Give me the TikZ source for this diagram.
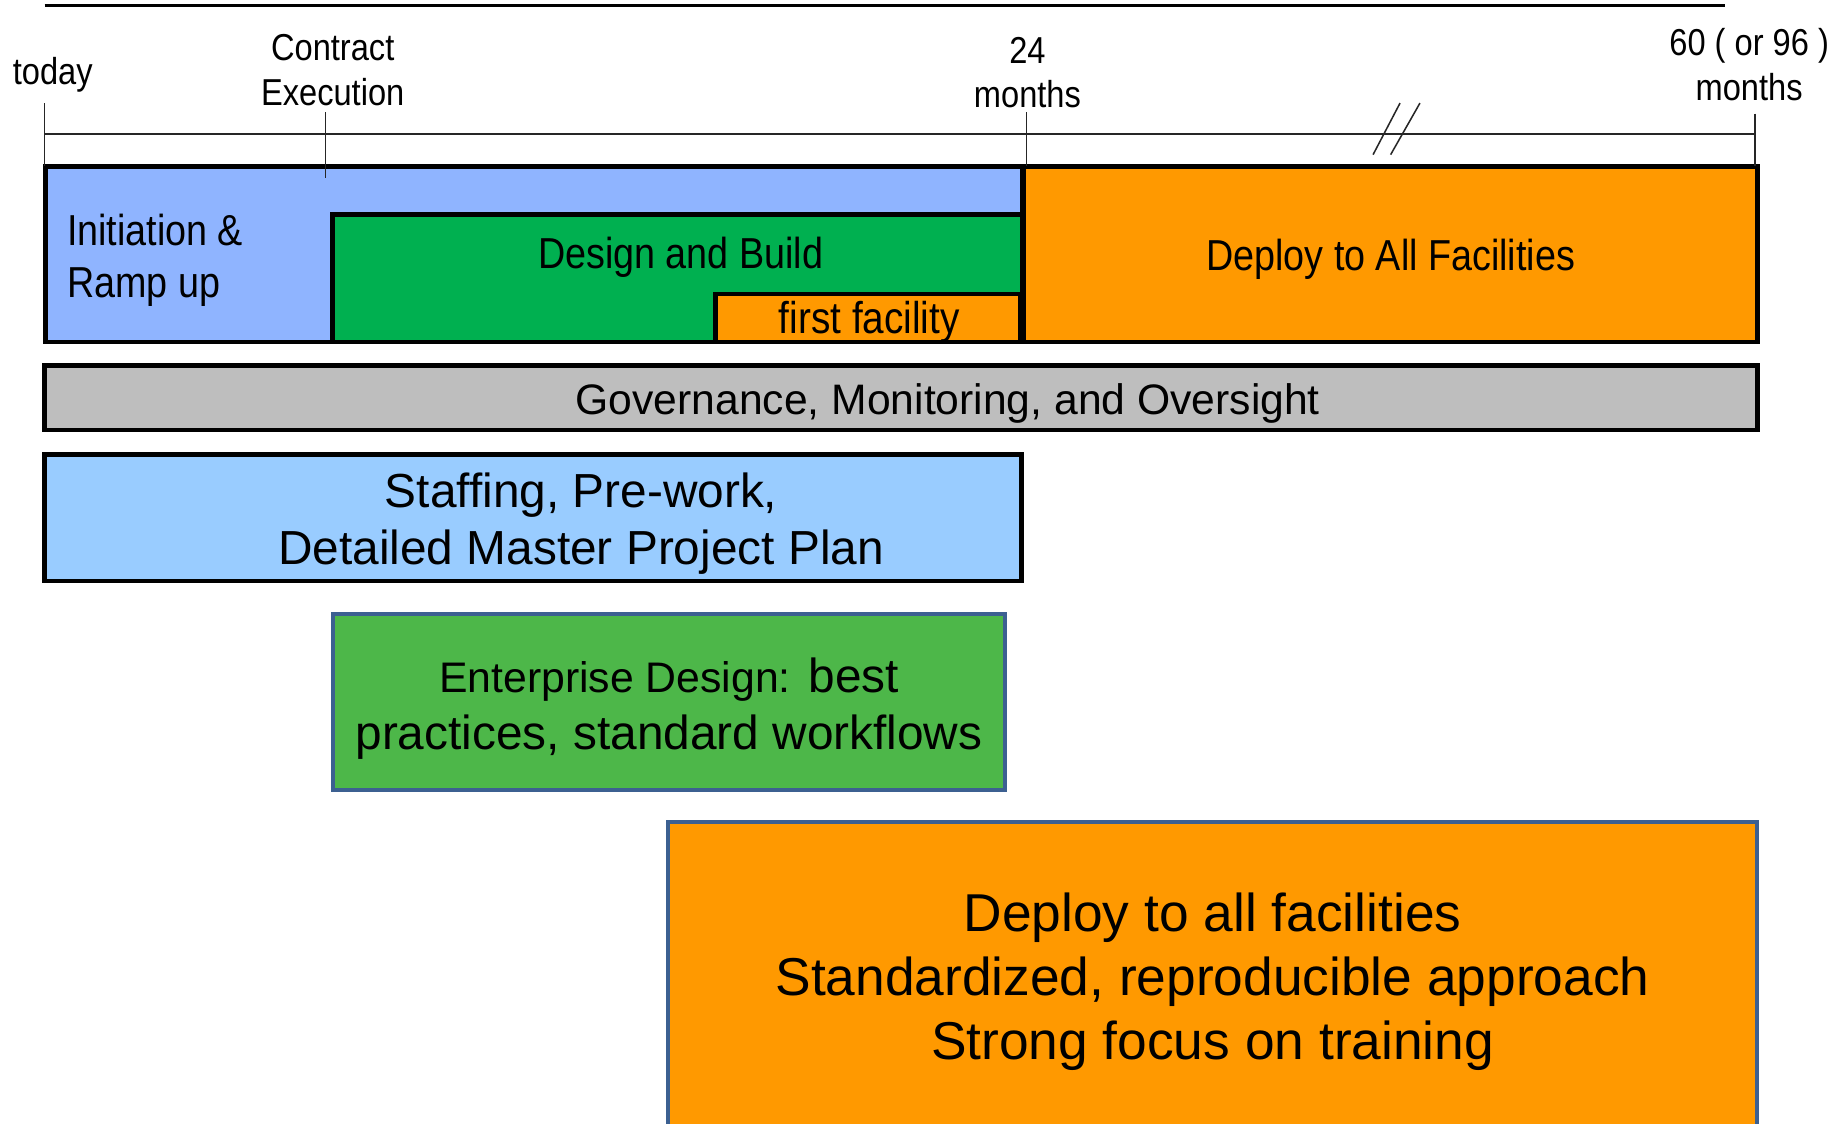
\documentclass[tikz,border=0pt]{standalone}
\usepackage{fontspec}
\setmainfont{Liberation Sans}
\newfontfamily\narrowfont[FakeStretch=0.87]{Liberation Sans}
\definecolor{initblue}{RGB}{143,180,255}
\definecolor{buildgreen}{RGB}{0,176,80}
\definecolor{deployorange}{RGB}{255,153,0}
\definecolor{govgray}{RGB}{190,190,190}
\definecolor{staffblue}{RGB}{153,204,255}
\definecolor{entgreen}{RGB}{77,183,73}
\definecolor{edgeblue}{RGB}{60,96,145}
\begin{document}
\begin{tikzpicture}[x=1pt,y=-1pt,
  bar/.style={draw=black, line width=4pt, inner sep=0pt, outer sep=0pt, anchor=north west},
  softbar/.style={draw=edgeblue, line width=3.5pt, inner sep=0pt, outer sep=0pt, anchor=north west},
  toplabel/.style={font={\narrowfont\fontsize{32}{38}\selectfont}, align=center, inner sep=0pt},
  barlabel/.style={font={\narrowfont\fontsize{37}{44}\selectfont}, inner sep=0pt},
  tickline/.style={line width=1.3pt, draw=black!85},
]
\clip (0,0) rectangle (1568,958.6);
\fill[white] (0,0) rectangle (1568,958.6);

% top rule and timeline
\draw[line width=2.5pt] (38,5) -- (1472,5);
\draw[tickline, line width=1.8pt] (38,114) -- (1498,114);

% top row bars
\node[bar, fill=initblue, minimum width=834pt, minimum height=150pt] (init) at (39,142) {};
\node[bar, fill=buildgreen, minimum width=589pt, minimum height=109pt] (build) at (284,183) {};
\node[bar, fill=deployorange, minimum width=260pt, minimum height=41pt] (first) at (611,251) {};
\node[bar, fill=deployorange, minimum width=626pt, minimum height=150pt] (deploy) at (874,142) {};

% ticks
\draw[tickline] (38,88) -- (38,142);
\draw[tickline] (278,96) -- (278,152);
\draw[tickline] (876,96) -- (876,142);
\draw[tickline] (1498,97) -- (1498,142);
% break marks
\draw[tickline] (1172,132) -- (1195,88);
\draw[tickline] (1187,132) -- (1212,88);

% timeline labels
\node[toplabel] (today) at (45,64) {today};
\node[toplabel] (contract) at (284,60) {Contract\\Execution};
\node[toplabel] (m24) at (877,62) {24\\months};
\node[toplabel] (m60) at (1493,55) {60 ( or 96 )\\months};

% bar labels
\node[barlabel, anchor=west, align=left] (inittxt) at (57,222) {Initiation \&\\Ramp up};
\node[barlabel] (buildtxt) at (581,220) {Design and Build};
\node[barlabel, font={\narrowfont\fontsize{38}{44}\selectfont}] (firsttxt) at (742,275) {first facility};
\node[barlabel] (deploytxt) at (1187,221) {Deploy to All Facilities};

% governance
\node[bar, fill=govgray, minimum width=1462pt, minimum height=55pt] (gov) at (38,312) {};
\node[font={\fontsize{36.4}{44}\selectfont}, inner sep=0pt] (govtxt) at (809,344) {Governance, Monitoring, and Oversight};

% staffing
\node[bar, fill=staffblue, minimum width=834pt, minimum height=108pt] (staff) at (38,388) {};
\node[font={\fontsize{40.8}{49}\selectfont}, align=center, inner sep=0pt] (stafftxt) at (496,447) {Staffing, Pre-work,\\Detailed Master Project Plan};

% enterprise design
\node[softbar, fill=entgreen, minimum width=574pt, minimum height=150pt] (ent) at (284,524) {};
\node[font={\fontsize{40.8}{49}\selectfont}, align=center, inner sep=0pt] (enttxt) at (571,605) {{\fontsize{36.5}{49}\selectfont Enterprise Design:} best\\practices, standard workflows};

% deploy all
\node[softbar, fill=deployorange, minimum width=930pt, minimum height=300pt] (big) at (570,702) {};
\node[font={\fontsize{45.5}{55}\selectfont}, align=center, inner sep=0pt] (bigtxt) at (1035,838) {Deploy to all facilities\\Standardized, reproducible approach\\Strong focus on training};
\end{tikzpicture}
\end{document}
